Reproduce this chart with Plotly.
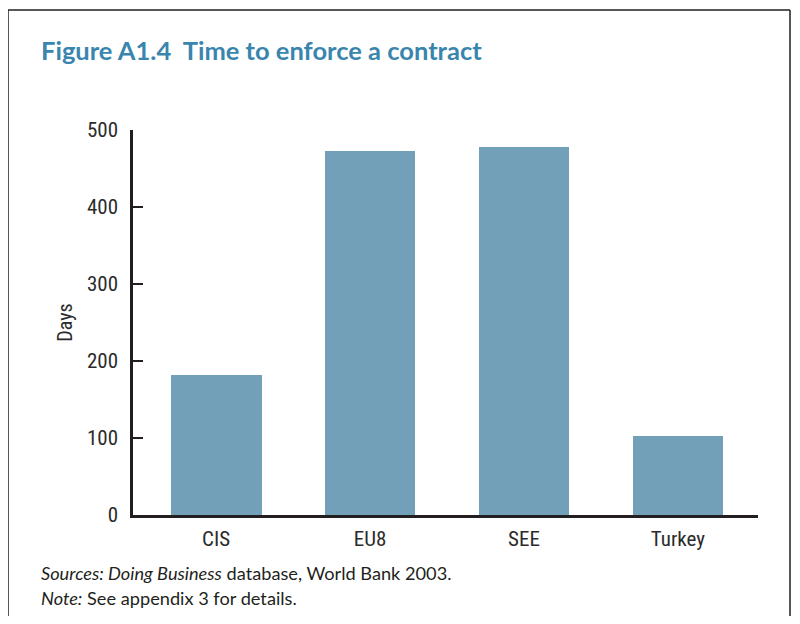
import plotly.graph_objects as go

# data
regions = ["CIS", "EU8", "SEE", "Turkey"]
days = [182, 473, 478, 103]
y_ticks = [0, 100, 200, 300, 400, 500]

# the page has an 8px body margin, so the figure starts at (8, 8)
OFF = 8
W, H = 784, 608
L, T = 133 - OFF, 130 - OFF
R, B = W - (758 - OFF), H - (515 - OFF)
pw, ph = W - L - R, H - T - B


def px_x(x):
    return (x - OFF - L) / pw


def px_y(y):
    return (H - B - (y - OFF)) / ph


fig = go.Figure()
fig.add_trace(go.Bar(
    x=list(range(len(regions))), y=days, width=0.59,
    marker=dict(color="#72a0b9", line=dict(width=0)),
))

fig.update_layout(
    width=W, height=H,
    margin=dict(l=L, r=R, t=T, b=B),
    plot_bgcolor="white", paper_bgcolor="white",
    showlegend=False,
    bargap=0,
    font=dict(family="Roboto Condensed, Roboto, sans-serif", color="#2b2b2b", size=21),
    xaxis=dict(
        range=[-0.54, 3.52], tickvals=list(range(len(regions))), ticktext=regions,
        showline=True, linecolor="#231f20", linewidth=2.5, ticks="", showgrid=False,
        zeroline=False, ticklabelstandoff=3,
    ),
    yaxis=dict(
        range=[0, 500], tickvals=y_ticks, showline=True, linecolor="#231f20", linewidth=2.5,
        ticks="inside", ticklen=10, tickwidth=2, tickcolor="#231f20", ticklabelstandoff=8,
        showgrid=False, zeroline=False,
        title=dict(text="Days", standoff=9, font=dict(size=20)),
    ),
)

# title and notes
fig.add_annotation(
    text="<b>Figure A1.4  Time to enforce a contract</b>", x=px_x(39), y=px_y(50),
    xref="paper", yref="paper", xanchor="left", yanchor="middle", showarrow=False,
    font=dict(family="Lato, Open Sans, sans-serif", size=25.5, color="#3a85ae"),
)
fig.add_annotation(
    text="<i>Sources: Doing Business</i> database, World Bank 2003.", x=px_x(39), y=px_y(573),
    xref="paper", yref="paper", xanchor="left", yanchor="middle", showarrow=False,
    font=dict(family="Lato, Open Sans, sans-serif", size=18.2, color="#231f20"),
)
fig.add_annotation(
    text="<i>Note:</i> See appendix 3 for details.", x=px_x(39), y=px_y(598),
    xref="paper", yref="paper", xanchor="left", yanchor="middle", showarrow=False,
    font=dict(family="Lato, Open Sans, sans-serif", size=18.2, color="#231f20"),
)

# frame around the figure
frame = dict(xref="paper", yref="paper", line=dict(color="#231f20", width=1.5))
fig.add_shape(type="line", x0=px_x(8), x1=px_x(790), y0=px_y(10), y1=px_y(10), **frame)
fig.add_shape(type="line", x0=px_x(8), x1=px_x(8), y0=px_y(10), y1=px_y(630), **frame)
fig.add_shape(type="line", x0=px_x(790), x1=px_x(790), y0=px_y(10), y1=px_y(630), **frame)

fig.write_html("out.html")
